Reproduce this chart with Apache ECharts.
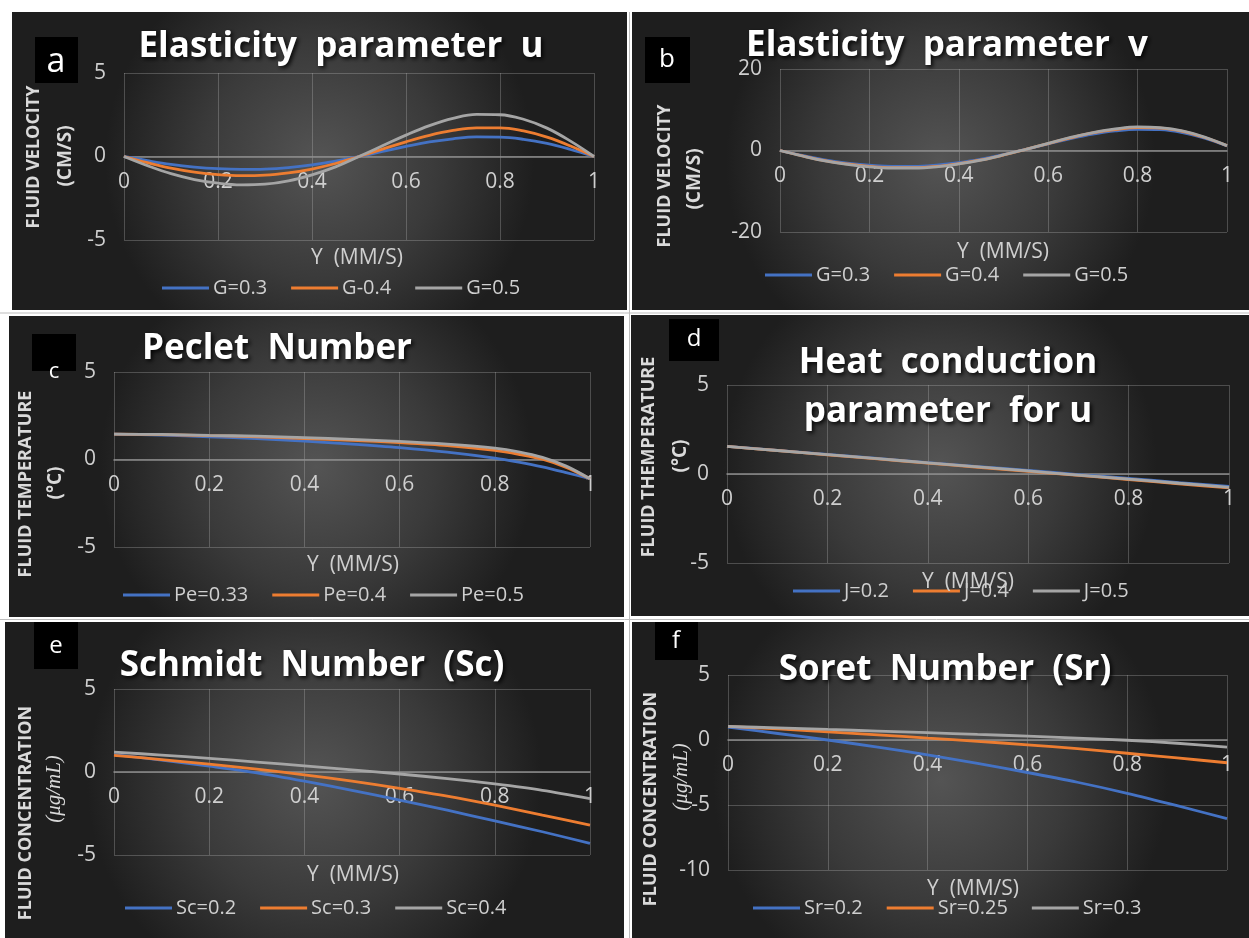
<!DOCTYPE html>
<html>
<head>
<meta charset="utf-8">
<script src="https://cdn.jsdelivr.net/npm/echarts@6/dist/echarts.min.js"></script>
<style>
html,body{margin:0;padding:0;background:#fff;}
#c{width:1249px;height:938px;}
</style>
</head>
<body>
<div id="c"></div>
<script>
// ---------- DATA ----------
const xA = [0,0.05,0.1,0.15,0.2,0.25,0.3,0.35,0.4,0.45,0.5,0.55,0.6,0.65,0.7,0.75,0.8,0.85,0.9,0.95,1];
const aNames = ['G=0.3','G-0.4','G=0.5'];
const aG03 = [0,-0.25,-0.47,-0.63,-0.73,-0.77,-0.75,-0.66,-0.5,-0.28,0,0.3,0.6,0.87,1.06,1.17,1.16,1.03,0.78,0.42,0];
const aG04 = [0,-0.37,-0.7,-0.94,-1.09,-1.15,-1.12,-0.98,-0.75,-0.42,0,0.44,0.88,1.27,1.56,1.72,1.72,1.53,1.16,0.63,0];
const aG05 = [0,-0.55,-1.03,-1.38,-1.6,-1.7,-1.66,-1.46,-1.1,-0.62,0,0.64,1.28,1.85,2.28,2.52,2.5,2.23,1.7,0.92,0];

const xB = [0,0.05,0.1,0.15,0.2,0.25,0.3,0.35,0.4,0.45,0.5,0.55,0.6,0.65,0.7,0.75,0.8,0.85,0.9,0.95,1];
const bNames = ['G=0.3','G=0.4','G=0.5'];
const bG03 = [0,-1.2,-2.3,-3.1,-3.6,-3.9,-3.9,-3.6,-3.0,-2.1,-1.0,0.3,1.6,2.9,4.0,4.8,5.2,5.1,4.4,3.0,1.1];
const bG04 = [0,-1.3,-2.5,-3.3,-3.9,-4.2,-4.2,-3.9,-3.2,-2.3,-1.1,0.3,1.7,3.1,4.3,5.1,5.6,5.5,4.7,3.2,1.2];
const bG05 = [0,-1.35,-2.55,-3.4,-4.0,-4.3,-4.3,-4.0,-3.3,-2.35,-1.1,0.3,1.75,3.2,4.4,5.3,5.8,5.6,4.8,3.3,1.2];

const xC = [0,0.1,0.2,0.3,0.4,0.5,0.6,0.7,0.8,0.85,0.9,0.95,1];
const cNames = ['Pe=0.33','Pe=0.4','Pe=0.5'];
const cPe033 = [1.45,1.4,1.3,1.2,1.05,0.88,0.68,0.42,0.08,-0.15,-0.42,-0.75,-1.1];
const cPe04  = [1.45,1.42,1.36,1.3,1.2,1.1,0.97,0.8,0.52,0.3,0.02,-0.45,-1.1];
const cPe05  = [1.45,1.43,1.38,1.33,1.25,1.15,1.04,0.88,0.65,0.44,0.12,-0.38,-1.1];

const xD = [0,0.1,0.2,0.3,0.4,0.5,0.6,0.7,0.8,0.9,1];
const dNames = ['J=0.2','J=0.4','J=0.5'];
const dJ02 = [1.55,1.33,1.1,0.87,0.64,0.42,0.2,-0.03,-0.25,-0.48,-0.7];
const dJ04 = [1.55,1.32,1.08,0.85,0.61,0.38,0.15,-0.08,-0.31,-0.55,-0.78];
const dJ05 = [1.55,1.32,1.09,0.86,0.63,0.4,0.17,-0.06,-0.29,-0.52,-0.75];

const xE = [0,0.1,0.2,0.3,0.4,0.5,0.6,0.7,0.8,0.9,1];
const eNames = ['Sc=0.2','Sc=0.3','Sc=0.4'];
const eSc02 = [1.05,0.72,0.35,-0.05,-0.55,-1.1,-1.7,-2.3,-2.95,-3.6,-4.3];
const eSc03 = [1.0,0.75,0.47,0.17,-0.17,-0.55,-0.98,-1.45,-2.0,-2.6,-3.2];
const eSc04 = [1.2,1.02,0.82,0.6,0.37,0.13,-0.12,-0.4,-0.72,-1.1,-1.6];

const xF = [0,0.1,0.2,0.3,0.4,0.5,0.6,0.7,0.8,0.9,1];
const fNames = ['Sr=0.2','Sr=0.25','Sr=0.3'];
const fSr02  = [1.0,0.5,0.0,-0.55,-1.15,-1.8,-2.5,-3.25,-4.1,-5.05,-6.05];
const fSr025 = [1.05,0.85,0.62,0.4,0.15,-0.1,-0.37,-0.67,-1.02,-1.38,-1.75];
const fSr03  = [1.05,0.93,0.81,0.69,0.56,0.43,0.3,0.15,-0.02,-0.25,-0.55];

const xTicks = ['0','0.2','0.4','0.6','0.8','1'];

const titles = {
  a:['Elasticity  parameter  u'],
  b:['Elasticity  parameter  v'],
  c:['Peclet  Number'],
  d:['Heat  conduction','parameter  for u'],
  e:['Schmidt  Number  (Sc)'],
  f:['Soret  Number  (Sr)']
};
const yNames = {
  a:['FLUID VELOCITY','(CM/S)'],
  b:['FLUID VELOCITY','(CM/S)'],
  c:['FLUID TEMPERATURE','(°C)'],
  d:['FLUID THEMPERATURE','(°C)'],
  e:['FLUID CONCENTRATION','(μg/mL)'],
  f:['FLUID CONCENTRATION','(μg/mL)']
};
const xName = 'Y  (MM/S)';

// ---------- LAYOUT / STYLE ----------
const COLORS = ['#4472C4','#ED7D31','#A5A5A5'];
const FONT = 'Open Sans';
const panels = [
  {k:'a', box:[12,12,615,298], grid:[124,73,470,167], y:[-5,5,5], x:xA, s:[aG03,aG04,aG05], names:aNames,
   lab:[35,37,43,46,'a',34,56,62], title:[341,47], yn:[[34,157],[66,156]], xn:[357,258], leg:[157,285], smooth:0.4},
  {k:'b', box:[632,12,617,298], grid:[780,69,447,163], y:[-20,20,20], x:xB, s:[bG03,bG04,bG05], names:bNames,
   lab:[645,37,45,46,'b',26,667,60], title:[947,46], yn:[[665,176],[695,179]], xn:[1003,252], leg:[760,272], smooth:0.4},
  {k:'c', box:[9,316,615,301], grid:[114,372,476,175], y:[-5,5,5], x:xC, s:[cPe033,cPe04,cPe05], names:cNames,
   lab:[32,334,44,37,'c',22,54,372], title:[277,349], yn:[[26,484],[56,483]], xn:[353,565], leg:[118,592], smooth:0.3},
  {k:'d', box:[631,315,618,301], grid:[727,385,502,178], y:[-5,5,5], x:xD, s:[dJ02,dJ04,dJ05], names:dNames,
   lab:[669,319,50,42,'d',24,694,339], title:[948,363], yn:[[649,457],[681,456]], xn:[968,582], leg:[788,588], smooth:0.2},
  {k:'e', box:[5,622,619,316], grid:[114,689,476,166], y:[-5,5,5], x:xE, s:[eSc02,eSc03,eSc04], names:eNames,
   lab:[34,622,44,47,'e',24,56,646], title:[312,666], yn:[[26,813],[54,789]], xn:[353,875], leg:[120,905], smooth:0.3},
  {k:'f', box:[632,622,617,316], grid:[728,675,499,195], y:[-10,5,5], x:xF, s:[fSr02,fSr025,fSr03], names:fNames,
   lab:[655,622,43,38,'f',24,676,641], title:[945,670], yn:[[651,799],[681,777]], xn:[973,889], leg:[748,905], smooth:0.3}
];

const grids=[], xAxes=[], yAxes=[], series=[], legends=[], gfx=[];
panels.forEach((p,i)=>{
  gfx.push({type:'rect', z:-100, shape:{x:p.box[0],y:p.box[1],width:p.box[2],height:p.box[3]},
    style:{fill:{type:'radial',x:0.5,y:0.5,r:0.72,colorStops:[{offset:0,color:'#545454'},{offset:0.55,color:'#3a3a3a'},{offset:1,color:'#1e1e1e'}]}}});
  grids.push({left:p.grid[0], top:p.grid[1], width:p.grid[2], height:p.grid[3], containLabel:false});
  // x axis sits where y = 0 crosses (Excel style): offset upward from the grid bottom
  const zeroOff = p.grid[3] * (0 - p.y[0]) / (p.y[1] - p.y[0]);
  xAxes.push({type:'value', gridIndex:i, min:0, max:1, interval:0.2, position:'bottom', offset:-zeroOff,
    axisLine:{show:true, onZero:false, lineStyle:{color:'#8c8c8c', width:1.5}},
    axisTick:{show:false},
    splitLine:{show:true, lineStyle:{color:'rgba(200,200,200,0.28)', width:1}},
    axisLabel:{color:'#cfcfcf', fontFamily:FONT, fontSize:21, margin:15,
      formatter:(v)=>{const idx=Math.round(v/0.2); return xTicks[idx]!==undefined?xTicks[idx]:'';}}});
  yAxes.push({type:'value', gridIndex:i, min:p.y[0], max:p.y[1], interval:p.y[2],
    axisLine:{show:false}, axisTick:{show:false},
    splitLine:{show:true, lineStyle:{color:'rgba(200,200,200,0.28)', width:1}},
    axisLabel:{color:'#cfcfcf', fontFamily:FONT, fontSize:21, margin:18}});
  p.s.forEach((arr,j)=>{
    series.push({type:'line', name:p.names[j], xAxisIndex:i, yAxisIndex:i, showSymbol:false, symbol:'none',
      smooth:p.smooth, z:3+j, lineStyle:{color:COLORS[j], width:2.8}, itemStyle:{color:COLORS[j]},
      data:p.x.map((xv,n)=>[xv,arr[n]])});
  });
  legends.push({data:p.names.slice(), left:p.leg[0], top:p.leg[1]-12, icon:'rect', itemWidth:47, itemHeight:3,
    itemGap:24, selectedMode:false, textStyle:{color:'#cfcfcf', fontFamily:FONT, fontSize:20, padding:[0,0,0,-1]}});
  gfx.push({type:'rect', z:50, shape:{x:p.lab[0],y:p.lab[1],width:p.lab[2],height:p.lab[3]}, style:{fill:'#000'}});
  gfx.push({type:'text', z:51, x:p.lab[6], y:p.lab[7], style:{text:p.lab[4], fill:'#fff', font:'normal '+p.lab[5]+'px "'+FONT+'"', align:'center', verticalAlign:'middle'}});
  titles[p.k].forEach((t,n)=>{
    gfx.push({type:'text', z:60, x:p.title[0], y:p.title[1]+n*49,
      style:{text:t, fill:'#ffffff', font:'bold 35px "'+FONT+'"', align:'center', verticalAlign:'middle',
        textShadowColor:'rgba(0,0,0,0.9)', textShadowBlur:4, textShadowOffsetX:2, textShadowOffsetY:2}});
  });
  const yn = yNames[p.k];
  gfx.push({type:'text', z:60, x:p.yn[0][0], y:p.yn[0][1], rotation:Math.PI/2,
    style:{text:yn[0], fill:'#dadada', font:'bold 18px "'+FONT+'"', align:'center', verticalAlign:'middle'}});
  const isMath = yn[1].indexOf('μ')>=0;
  gfx.push({type:'text', z:60, x:p.yn[1][0], y:p.yn[1][1], rotation:Math.PI/2,
    style:{text:yn[1], fill:'#dadada', font:(isMath?'italic 21px "Liberation Serif"':'bold 19px "'+FONT+'"'), align:'center', verticalAlign:'middle'}});
  gfx.push({type:'text', z:60, x:p.xn[0], y:p.xn[1],
    style:{text:xName, fill:'#cfcfcf', font:'normal 21px "'+FONT+'"', align:'center', verticalAlign:'middle'}});
});
gfx.push({type:'line', z:-50, shape:{x1:629.5,y1:12,x2:629.5,y2:938}, style:{stroke:'#bdbdbd', lineWidth:1}});
gfx.push({type:'line', z:-50, shape:{x1:0,y1:313,x2:1249,y2:313}, style:{stroke:'#bdbdbd', lineWidth:1}});
gfx.push({type:'line', z:-50, shape:{x1:0,y1:619.5,x2:1249,y2:619.5}, style:{stroke:'#bdbdbd', lineWidth:1}});

const chart = echarts.init(document.getElementById('c'), null, {renderer:'canvas'});
chart.setOption({
  backgroundColor:'#ffffff',
  animation:false,
  grid:grids, xAxis:xAxes, yAxis:yAxes, series:series, legend:legends,
  graphic:[{elements:gfx}]
});
</script>
</body>
</html>
